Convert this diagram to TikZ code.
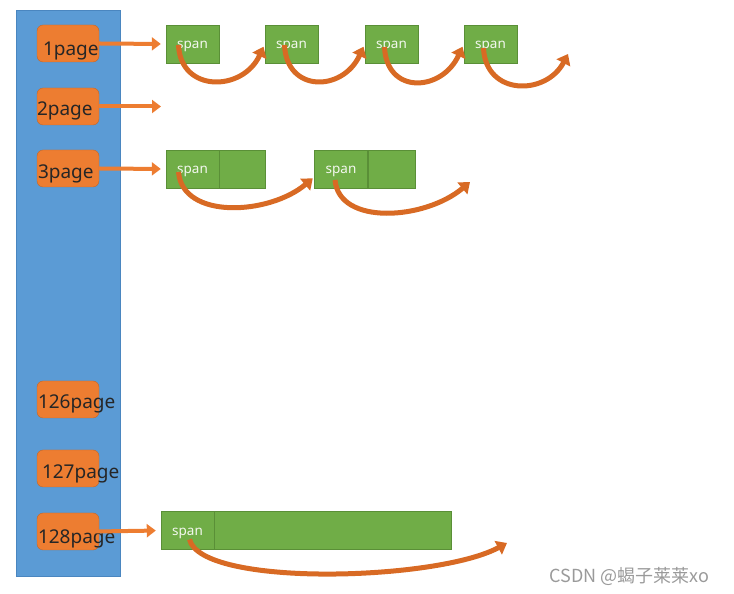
\documentclass[tikz,border=0pt]{standalone}
\usepackage{fontspec}
\setmainfont{Noto Sans}
\newfontfamily\cjk{Noto Sans CJK SC}
\usetikzlibrary{arrows.meta,positioning}
\definecolor{ColBlue}{HTML}{5B9BD5}
\definecolor{ColBlueDark}{HTML}{4A86C0}
\definecolor{PageOrange}{HTML}{ED7D31}
\definecolor{PageOrangeDark}{HTML}{C0662A}
\definecolor{HopOrange}{HTML}{D86A24}
\definecolor{SpanGreen}{HTML}{70AD47}
\definecolor{SpanGreenDark}{HTML}{5A8F37}
\definecolor{MarkGrey}{HTML}{9A9A9A}

\tikzset{
  pagebox/.style={draw=PageOrangeDark,fill=PageOrange,rounded corners=6pt,
    minimum width=62pt,minimum height=37pt,inner sep=0pt},
  pagetxt/.style={font=\fontsize{19}{19}\selectfont,text=black!85,inner sep=0pt,anchor=west},
  spanbox/.style={draw=SpanGreenDark,fill=SpanGreen,minimum height=38pt,
    minimum width=53pt,inner sep=0pt,text height=12pt,text depth=2pt,
    text=white!92!SpanGreen,font=\fontsize{13.5}{14}\selectfont},
  ptr/.style={draw=PageOrange,line width=4pt,-{Triangle[length=9pt,width=13pt]},shorten >=5pt},
  hop/.style={draw=HopOrange,line width=5pt,-{Triangle[length=10pt,width=15pt]}},
}

\begin{document}
\begin{tikzpicture}[x=1pt,y=1pt]
  \useasboundingbox (0,0) rectangle (734,594);
  % free list column
  \node[draw=ColBlueDark,fill=ColBlue,minimum width=104pt,minimum height=566pt,inner sep=0pt]
    (col) at (68,301) {};
  % page boxes
  \foreach \n/\y/\dx/\dy in {1/550.5/6/-8,2/487.5/0/-4,3/425.5/1/-5,126/194.5/1/-4,127/125.5/5/-5,128/62.5/1/-7}{
    \node[pagebox,label={[pagetxt,xshift=\dx pt,yshift=\dy pt]west:\n page}] (p\n) at (68,\y) {};
  }

  % 1page: four spans
  \foreach \i/\x in {1/192.5,2/291.5,3/391.5,4/490.5}{
    \node[spanbox] (s1\i) at (\x,550) {span};
  }
  % 3page: two spans of two cells
  \node[spanbox] (s31) at (192.5,425) {span};
  \node[spanbox,minimum width=46pt,right=0pt of s31] (s31b) {};
  \node[spanbox] (s32) at (341,425) {span};
  \node[spanbox,minimum width=47pt,right=0pt of s32] (s32b) {};
  % 128page: one span
  \node[spanbox] (s128) at (187.5,63.5) {span};
  \node[spanbox,minimum width=237pt,right=0pt of s128] (s128b) {};

  % free ends
  \coordinate (e2) at (166,487.5);
  \coordinate (e14) at (568,540);
  \coordinate (e32) at (470,412);
  \coordinate (e128) at (507,51);

  % page -> span
  \draw[ptr] (p1.east) -- (s11.west);
  \draw[ptr] (p2.east) -- (e2);
  \draw[ptr] (p3.east) -- (s31.west);
  \draw[ptr] ([xshift=-4pt]p128.east) -- (s128.west);

  % span -> next span
  \draw[hop,shorten >=3pt] ([xshift=-14pt,yshift=-1pt]s11.center) .. controls +(2,-48) and +(-22,-48) .. (s12.west);
  \draw[hop,shorten >=3pt] ([xshift=-7pt,yshift=-1pt]s12.center) .. controls +(2,-48) and +(-22,-48) .. (s13.west);
  \draw[hop,shorten >=3pt] ([xshift=-7pt,yshift=-3pt]s13.center) .. controls +(2,-48) and +(-22,-48) .. (s14.west);
  \draw[hop] ([xshift=-7pt,yshift=-4pt]s14.center) .. controls +(2,-48) and +(-22,-42) .. (e14);
  \draw[hop,shorten >=2pt] ([xshift=-14pt,yshift=-3pt]s31.center) .. controls +(4,-48) and +(-45,-38) .. ([yshift=-8pt]s32.west);
  \draw[hop] ([xshift=-6pt,yshift=-11pt]s32.center) .. controls +(4,-46) and +(-45,-38) .. (e32);
  \draw[hop] ([xshift=2pt,yshift=-9pt]s128.center) .. controls +(12,-48) and +(-70,-38) .. (e128);

  % watermark
  \node[font=\cjk\fontsize{18}{18}\selectfont,text=MarkGrey,anchor=west] (mark) at (546,18) {CSDN @蝎子莱莱xo};
\end{tikzpicture}
\end{document}
